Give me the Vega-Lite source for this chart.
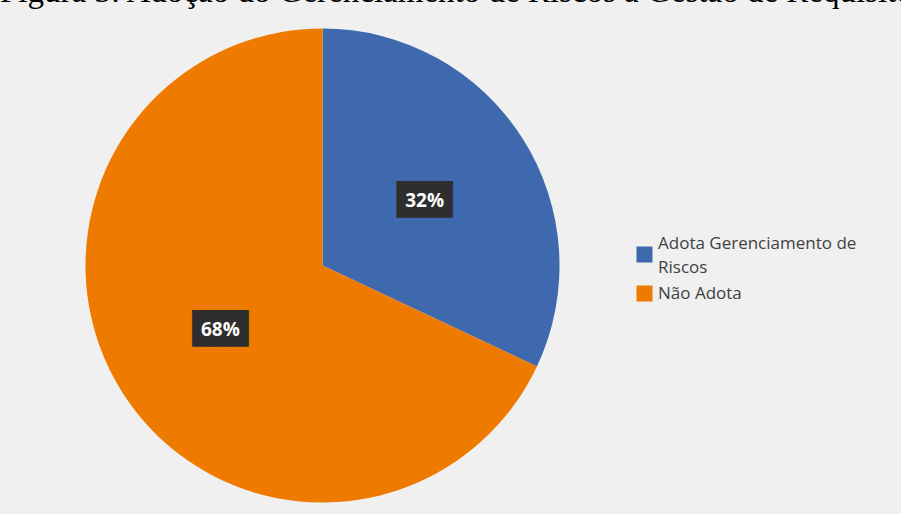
{
  "$schema": "https://vega.github.io/schema/vega-lite/v6.json",
  "width": 625,
  "height": 505,
  "autosize": "none",
  "padding": {"left": 10, "top": 13, "right": 266, "bottom": 0},
  "background": "#f0f0f0",
  "config": {"view": {"stroke": null}},
  "title": {
    "text": "Figura 3: Adoção do Gerenciamento de Riscos à Gestão de Requisitos",
    "anchor": "start",
    "frame": "group",
    "orient": "top",
    "font": "Liberation Serif",
    "fontSize": 33,
    "fontWeight": "normal",
    "color": "#000000",
    "offset": 4,
    "dx": -10
  },
  "data": {
    "values": [
      {"categoria": "Adota Gerenciamento de Riscos", "percentual": 32, "rotulo": "32%"},
      {"categoria": "Não Adota", "percentual": 68, "rotulo": "68%"}
    ]
  },
  "encoding": {
    "theta": {"field": "percentual", "type": "quantitative", "stack": true},
    "order": {"field": "percentual", "type": "quantitative", "sort": "ascending"}
  },
  "layer": [
    {
      "mark": {"type": "arc", "outerRadius": 237},
      "encoding": {
        "color": {
          "field": "categoria",
          "type": "nominal",
          "scale": {"domain": ["Adota Gerenciamento de Riscos", "Não Adota"], "range": ["#3F69AE", "#EE7A00"]},
          "legend": {
            "title": null,
            "orient": "none",
            "legendX": 626,
            "legendY": 233,
            "symbolType": "square",
            "symbolSize": 256,
            "symbolStrokeWidth": 0,
            "labelFont": "Open Sans",
            "labelFontSize": 17,
            "labelColor": "#404040",
            "labelLimit": 300,
            "labelOffset": 5,
            "rowPadding": 8,
            "labelExpr": "datum.label == 'Adota Gerenciamento de Riscos' ? ['Adota Gerenciamento de', 'Riscos'] : datum.label",
            "encode": {
              "labels": {
                "update": {
                  "lineHeight": {"value": 24},
                  "dy": {"signal": "datum.value == 'Adota Gerenciamento de Riscos' ? -11 : 0"}
                }
              }
            }
          }
        }
      }
    },
    {
      "mark": {"type": "text", "radius": 121, "font": "DejaVu Sans Mono", "fontSize": 31, "color": "#2e2e2e", "baseline": "middle", "align": "center"},
      "encoding": {"text": {"value": "███"}}
    },
    {
      "mark": {"type": "text", "radius": 121, "font": "Open Sans", "fontWeight": "bold", "fontSize": 19, "color": "#ffffff", "baseline": "middle", "align": "center"},
      "encoding": {"text": {"field": "rotulo", "type": "nominal"}}
    }
  ]
}
